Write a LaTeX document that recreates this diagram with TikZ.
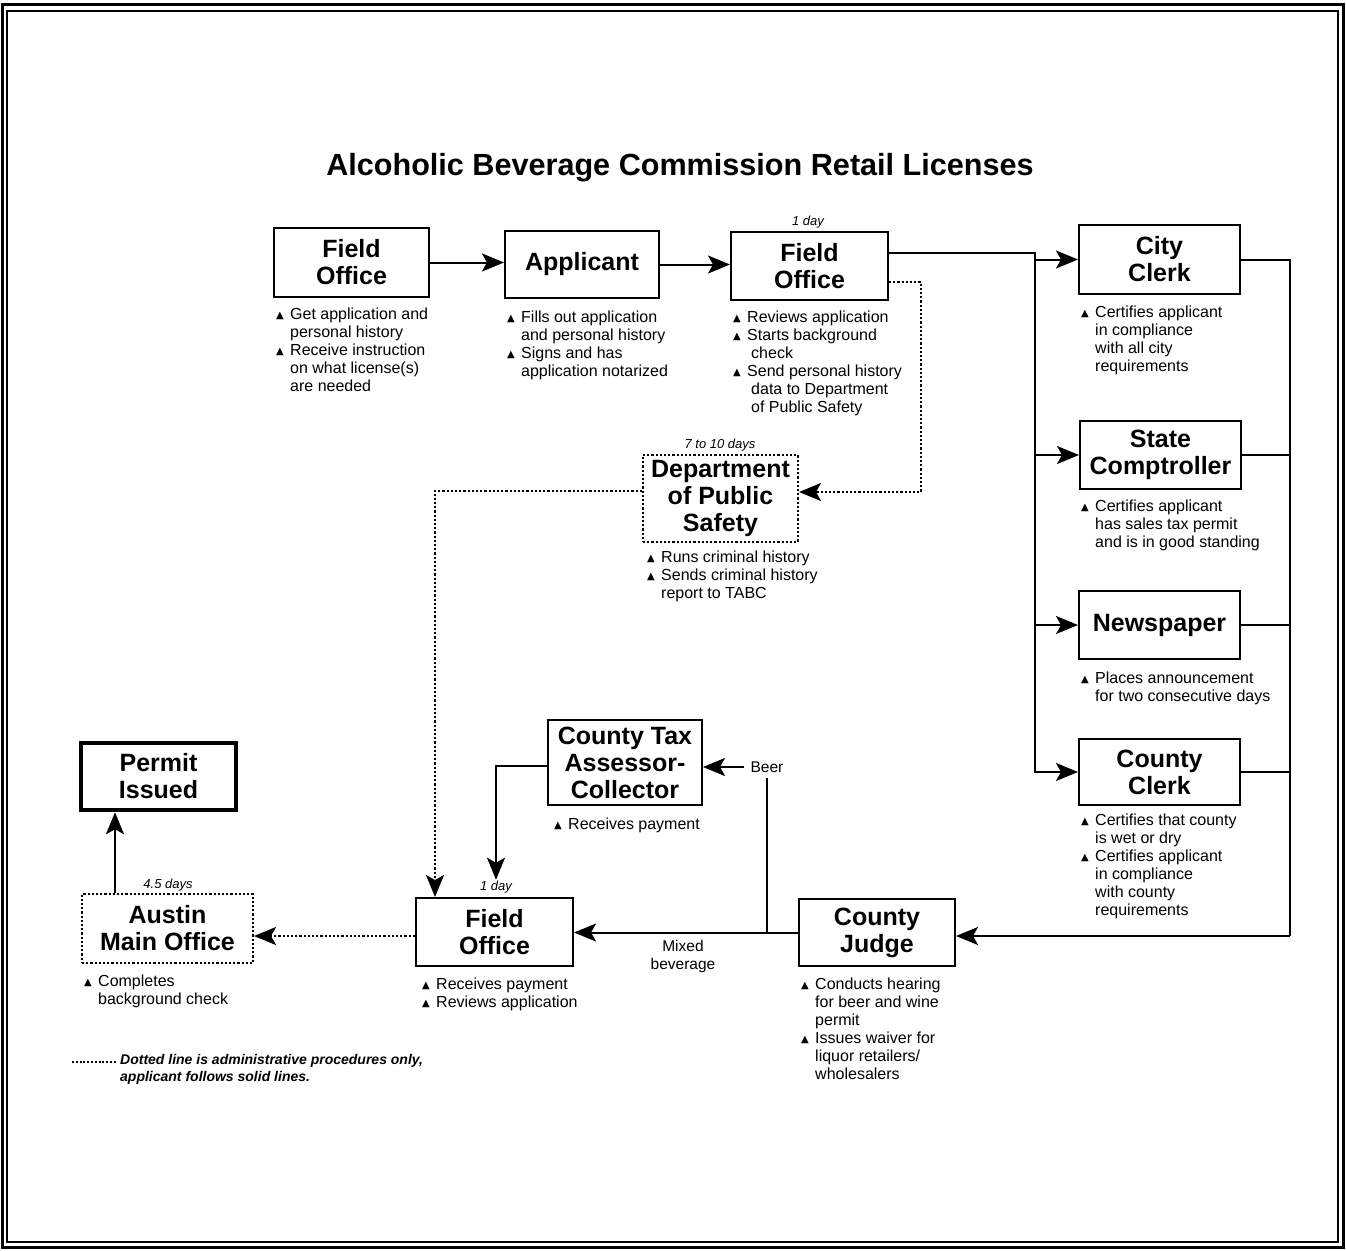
\documentclass[tikz,border=0pt]{standalone}
\usepackage{fontspec}
\setmainfont{Liberation Sans}
\newfontfamily\symfont{DejaVu Sans}
\usetikzlibrary{arrows.meta,calc}

% bullet and hanging indent for the note lists
\newcommand\tri{\makebox[14pt][l]{\raisebox{1pt}{\symfont\fontsize{10}{10}\selectfont ▲}}}
\newcommand\ind{\makebox[14pt]{}}

\tikzset{
  box/.style={draw, line width=2pt, rectangle, inner sep=0pt, align=center,
              font=\fontsize{25}{27}\selectfont\bfseries},
  dbox/.style={box, dash pattern=on 2.2pt off 2pt},
  note/.style={anchor=north west, inner sep=0pt, align=left,
               font=\fontsize{16}{18}\selectfont},
  tag/.style={inner sep=1pt, font=\fontsize{13}{15}\selectfont\itshape},
  lbl/.style={inner sep=1pt, align=center, font=\fontsize{15.5}{18}\selectfont},
  conn/.style={line width=2pt},
  arr/.style={conn, -{Stealth[length=22pt,width=18pt,inset=5pt]}},
  darr/.style={arr, dash pattern=on 2.2pt off 2pt},
}

\begin{document}
\begin{tikzpicture}[x=1pt,y=-1pt]
\useasboundingbox (0,0) rectangle (1346,1250);
\fill[white] (0,0) rectangle (1346,1250);

% page frame
\draw[line width=3pt] (2,4) rectangle (1343,1247);
\draw[line width=1.2pt] (7,11) rectangle (1338,1242);

% title
\node[font=\fontsize{30.6}{34}\selectfont\bfseries] (title) at (680,168)
  {Alcoholic Beverage Commission Retail Licenses};

% boxes
\node[box, minimum width=155, minimum height=69] (fo1) at (351.5,262.5) {Field\\Office};
\node[box, minimum width=154, minimum height=67] (app) at (582,264.5) {Applicant};
\node[box, minimum width=157, minimum height=68] (fo2) at (809.5,266) {Field\\Office};
\node[box, minimum width=161, minimum height=69] (city) at (1159.5,259.5) {City\\Clerk};
\node[box, minimum width=161, minimum height=68] (state) at (1160.5,455) {State\\Comptroller};
\node[box, minimum width=161, minimum height=68] (news) at (1159.5,625) {Newspaper};
\node[box, minimum width=161, minimum height=66] (cclerk) at (1159.5,772) {County\\Clerk};
\node[dbox, minimum width=155, minimum height=87] (dps) at (720.5,498.5) {Department\\of Public\\Safety};
\node[box, minimum width=154, minimum height=85] (ctac) at (625,762.5) {County Tax\\Assessor-\\Collector};
\node[box, minimum width=157, minimum height=68] (fo3) at (494.5,932) {Field\\Office};
\node[box, minimum width=156, minimum height=67] (judge) at (877,932.5) {County\\Judge};
\node[box, line width=4.5pt, minimum width=155, minimum height=67] (permit) at (158.5,776.5) {Permit\\Issued};
\node[dbox, minimum width=171, minimum height=69] (austin) at (167.5,928.5) {Austin\\Main Office};

% time tags
\node[tag] (fo2day) at (808,222) {1 day};
\node[tag] (dpsdays) at (720,445) {7 to 10 days};
\node[tag] (fo3day) at (496,887) {1 day};
\node[tag] (austindays) at (168,885) {4.5 days};

% notes
\node[note] (n1) at (276,308) {\tri Get application and\\\ind personal history\\\tri Receive instruction\\\ind on what license(s)\\\ind are needed};
\node[note] (n2) at (507,311) {\tri Fills out application\\\ind and personal history\\\tri Signs and has\\\ind application notarized};
\node[note] (n3) at (733,311) {\tri Reviews application\\\tri Starts background\\\ind\hspace*{4pt}check\\\tri Send personal history\\\ind\hspace*{4pt}data to Department\\\ind\hspace*{4pt}of Public Safety};
\node[note] (n4) at (1081,306) {\tri Certifies applicant\\\ind in compliance\\\ind with all city\\\ind requirements};
\node[note] (n5) at (1081,500) {\tri Certifies applicant\\\ind has sales tax permit\\\ind and is in good standing};
\node[note] (n6) at (1081,672) {\tri Places announcement\\\ind for two consecutive days};
\node[note] (n7) at (1081,814) {\tri Certifies that county\\\ind is wet or dry\\\tri Certifies applicant\\\ind in compliance\\\ind with county\\\ind requirements};
\node[note] (n8) at (647,551) {\tri Runs criminal history\\\tri Sends criminal history\\\ind report to TABC};
\node[note] (n9) at (554,818) {\tri Receives payment};
\node[note] (n10) at (422,978) {\tri Receives payment\\\tri Reviews application};
\node[note] (n11) at (801,978) {\tri Conducts hearing\\\ind for beer and wine\\\ind permit\\\tri Issues waiver for\\\ind liquor retailers/\\\ind wholesalers};
\node[note] (n12) at (84,975) {\tri Completes\\\ind background check};

% connector labels
\node[lbl, inner xsep=6pt] (beer) at (767,767) {Beer};
\node[lbl] (mixed) at (683,956) {Mixed\\beverage};

% top row
\draw[arr] (fo1.east) -- (fo1.east -| app.west);
\draw[arr] (app.east) -- (app.east -| fo2.west);

% distribution to the certifying offices
\coordinate (busTop) at (1035,253);
\coordinate (busBot) at (1035,773);
\draw[conn] (fo2.east |- busTop) -- (busTop) -- (busBot);
\draw[arr] (busTop |- city.west) -- (city.west);
\draw[arr] (busTop |- state.west) -- (state.west);
\draw[arr] (busTop |- news.west) -- (news.west);
\draw[arr] (busTop |- cclerk.west) -- (cclerk.west);

% return to the county judge
\coordinate (rb) at (1290,936);
\draw[conn] (city.east) -| (rb);
\draw[conn] (state.east) -- (state.east -| rb);
\draw[conn] (news.east) -- (news.east -| rb);
\draw[conn] (cclerk.east) -- (cclerk.east -| rb);
\draw[arr] (rb) -- (rb -| judge.east);

% county judge to field office, beer branch to tax assessor
\draw[arr] (judge.west) -- (judge.west -| fo3.east);
\draw[conn] (beer.south |- judge.west) -- ([yshift=-4pt]beer.south);
\draw[arr] (beer.west) -- (beer.west -| ctac.east);
\coordinate (ctacTurn) at (496,766);
\draw[arr] (ctac.west |- ctacTurn) -- (ctacTurn) -- (fo3day.north);

% administrative (dotted) route
\coordinate (dpsIn) at ($(fo2.east)+(0,16)$);
\coordinate (dpsCorner) at (921,492);
\draw[darr] (dpsIn) -| (dpsCorner) -- (dpsCorner -| dps.east);
\coordinate (dpsOut) at ($(dps.west)+(0,-8)$);
\coordinate (fo3In) at ($(fo3.north west)+(20,0)$);
\draw[darr] (dpsOut) -| (fo3In);
\draw[darr] (fo3.west |- rb) -- (rb -| austin.east);

% final step
\coordinate (ap) at ($(austin.north west)+(34,0)$);
\draw[arr] (ap) -- (ap |- permit.south);

% legend
\node[anchor=north west, inner sep=0pt, align=left,
      font=\fontsize{14}{17}\selectfont\bfseries\itshape] (legend) at (120,1054)
  {Dotted line is administrative procedures only,\\applicant follows solid lines.};
\coordinate (legL) at (72,1062);
\draw[line width=1.5pt, dash pattern=on 2pt off 1.8pt] (legL) -- ($(legL -| legend.west)+(-3,0)$);
\end{tikzpicture}
\end{document}
